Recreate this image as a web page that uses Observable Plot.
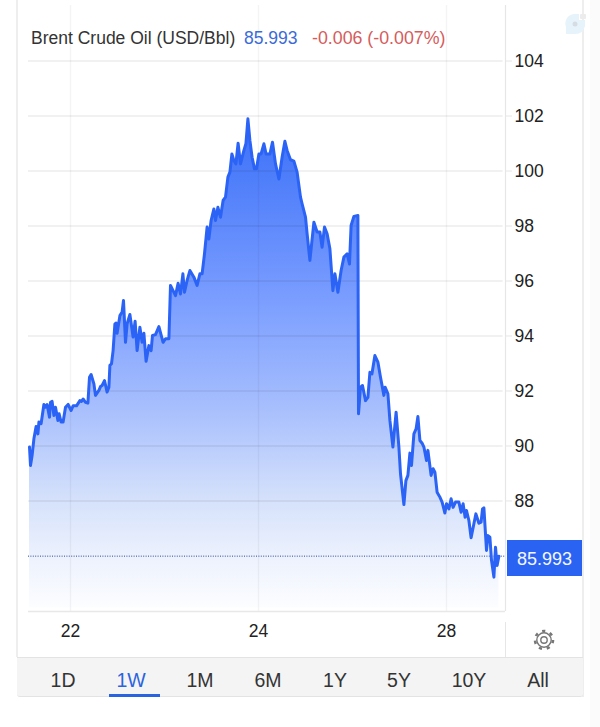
<!DOCTYPE html>
<html>
<head>
<meta charset="utf-8">
<script src="https://cdn.jsdelivr.net/npm/d3@7"></script>
<script src="https://cdn.jsdelivr.net/npm/@observablehq/plot@0.6"></script>
<style>
  html, body { margin: 0; padding: 0; background: #fff; }
  body { position: relative; width: 600px; height: 727px; overflow: hidden; font-family: "Liberation Sans", Arial, sans-serif; }
  #chart { position: absolute; left: 0; top: 0; }
  .abs { position: absolute; }
  #head { left: 31px; top: 28px; font-size: 17.5px; line-height: 20px; color: #333; white-space: nowrap; }
  #last { left: 244px; top: 28px; font-size: 17.5px; line-height: 20px; color: #3a6bd8; }
  #chg { left: 312px; top: 28px; font-size: 17.8px; line-height: 20px; color: #d55c5c; white-space: nowrap; }
  #tag { left: 507px; top: 540px; width: 75px; height: 36px; background: #2a63f2; color: #f4f7ff; font-size: 18px; line-height: 38px; text-align: center; }
  #bar { left: 17px; top: 657px; width: 566px; height: 40px; background: #f4f4f4; border-top: 1px solid #e3e3e3; border-bottom: 1px solid #e3e3e3; border-radius: 0 0 3px 3px; box-sizing: border-box; }
  .btn { position: absolute; top: 670px; font-size: 19.5px; line-height: 20px; color: #333; transform: translateX(-50%); }
  .on { color: #2a63e0; }
</style>
</head>
<body>
<div class="abs" style="left:16px;top:0;width:2px;height:657px;background:#eeeeee"></div>
<div class="abs" style="left:582px;top:0;width:2px;height:697px;background:#eeeeee"></div>
<div class="abs" style="left:590px;top:0;width:10px;height:727px;background:#fbfbfb"></div>
<div class="abs" style="left:505px;top:622px;width:1px;height:35px;background:#e6e6e6"></div>
<div id="chart"></div>
<div class="abs" id="head"></div>
<div class="abs" id="last"></div>
<div class="abs" id="chg"></div>
<div class="abs" id="tag"></div>
<div class="abs" id="bar"></div>
<div class="abs" style="left:109px;top:694px;width:51px;height:3px;background:#2a63e0"></div>
<svg class="abs" style="left:533px;top:629px" width="22" height="22" viewBox="0 0 22 22">
  <circle cx="11" cy="11" r="7.2" fill="none" stroke="#777" stroke-width="1.4"/>
  <circle cx="11" cy="11" r="9" fill="none" stroke="#777" stroke-width="2.6" stroke-dasharray="3.2 4.85"/>
  <circle cx="11" cy="11" r="3.2" fill="none" stroke="#777" stroke-width="1.4"/>
</svg>
<svg class="abs" style="left:565px;top:13px" width="22" height="24" viewBox="0 0 22 24">
  <path d="M1 14 A9.5 9.5 0 0 1 10 1 L14 1 L14 7 L20 7 L20 13 A9.5 9.5 0 0 1 10 21 L1 21 Z" fill="#e6f3fb"/>
  <circle cx="10" cy="11" r="2.5" fill="#d5dde2"/>
  <rect x="15" y="1" width="6" height="5" rx="1" fill="#ececec"/>
</svg>
<script>
const titleText = "Brent Crude Oil (USD/Bbl)";
const lastValue = 85.993;
const changeText = "-0.006 (-0.007%)";
const ranges = ["1D", "1W", "1M", "6M", "1Y", "5Y", "10Y", "All"];
const rangeCentres = [63, 131, 200, 268, 335, 399, 469, 538];
const yTicks = [88, 90, 92, 94, 96, 98, 100, 102, 104];
const xTicks = [21, 115, 209];
const xTickLabels = ["22", "24", "28"];

// position in 30-minute trading bars since the window start
const bars = [0.5,1,1.8,2.7,3.8,4.7,5.2,6.3,7.7,8.5,9.3,10.5,11,11.8,12.7,13.5,14.7,15.3,16.3,17.3,18.5,19.8,21.3,22.3,24,25.7,26.5,27.3,28.5,29.7,30.5,31.3,32.7,33.5,35.2,36,36.8,38,39.3,40.2,40.7,41.5,42.3,43.2,43.8,44.3,45.7,46.8,47.5,48.5,49.3,50.7,52.3,53.3,54.3,55.7,56.8,57.7,58.8,60.2,61.3,62,63.5,65.2,67.3,68.5,70.2,71,73.5,74.8,76,77.2,78,79.3,80.7,82.7,84.3,85.7,86.8,88,89.3,90.2,91.3,92.7,93.5,94.7,96,97.3,98.5,99.7,100.7,101.7,102.7,103.7,104.8,106,107.7,108.7,109.7,110.7,111.8,113,114,115.2,116.3,117.7,118.8,120.7,122,123.5,125.2,126.8,128.2,129.3,131,132.7,134.3,136,136.8,138.5,139.3,140.7,142.7,144.3,145.7,146.8,148,149.3,150.7,152.2,153.2,154.7,156.3,157.7,159.3,160.5,161.3,162.7,164.7,165,166,167,168.5,169.7,170.7,171.7,173.2,174.7,176,177.7,178.3,179.7,180.7,182.2,183.8,185.2,186,187.7,188.7,189.7,190.7,191.5,192.7,193.8,194.7,195.7,196.8,197.7,199,199.7,201.3,202.3,203.2,204.3,205.7,206.8,208.2,209,210.2,211.3,212.3,213.5,215.2,216.3,217.3,218.3,219,220.2,221.3,222.7,223.7,225.2,226.3,227,227.7,229,229.7,230.7,231.5,232.7,233.5,234.3,235.2];
const prices = [89.96,89.29,89.65,90.26,90.71,90.44,90.87,90.81,91.51,91.41,91.51,91.05,91.59,91.62,91.11,91.41,90.93,91.17,90.87,90.87,91.41,91.51,91.29,91.46,91.46,91.65,91.62,91.71,91.59,91.56,92.5,92.6,92.26,91.84,92.02,92.16,92.2,92.38,91.96,92.14,92.93,92.99,93.47,94.44,94.47,94.1,94.74,94.87,95.29,93.77,94.44,94.78,93.96,94.54,93.47,94.32,93.77,94.1,93.08,93.65,93.47,94.02,94.05,94.34,93.77,93.9,93.9,95.84,95.47,95.92,95.53,96.26,95.59,96.02,96.38,96.14,95.84,96.26,96.26,96.99,97.96,97.53,98.2,98.62,98.2,98.68,98.32,98.93,99.05,99.78,99.96,100.62,100.38,100.26,101.01,100.26,100.75,100.99,101.9,101.11,100.5,100.08,100.08,100.62,100.62,100.99,100.62,100.62,101.05,100.26,99.71,100.5,101.08,100.75,100.41,100.36,99.96,99.05,98.81,98.32,97.72,96.75,98.14,97.78,97.78,97.23,97.96,97.72,97.17,95.65,96.26,95.59,96.38,96.87,96.99,96.62,98.02,98.35,98.38,91.17,92.14,92.2,91.65,91.77,92.68,92.62,93.29,93.05,92.5,91.84,92.14,91.9,90.93,89.96,91.23,89.96,88.99,87.87,88.74,88.93,89.74,89.29,90.44,90.62,91.07,90.2,90.1,89.96,89.47,89.84,88.93,89.17,89.05,88.32,88.14,87.96,87.56,87.9,87.71,88.08,87.77,87.96,87.96,87.59,87.9,87.41,87.65,87.29,86.66,87.17,87.53,87.19,87.23,87.71,87.75,86.2,86.74,86.68,85.84,85.23,86.32,85.65,85.993];

document.getElementById("head").textContent = titleText;
document.getElementById("last").textContent = lastValue.toFixed(3);
document.getElementById("chg").textContent = changeText;
document.getElementById("tag").textContent = lastValue.toFixed(3);
ranges.forEach((r, i) => {
  const d = document.createElement("div");
  d.className = "btn" + (r === "1W" ? " on" : "");
  d.style.left = rangeCentres[i] + "px";
  d.textContent = r;
  document.body.appendChild(d);
});

const yFloor = 83.98, yTop = 106.02, xEnd = 238.5, areaFloor = 84.12;

function gradientDefs() {
  const defs = d3.create("svg:defs");
  const g = defs.append("linearGradient").attr("id", "oilfill")
    .attr("x1", 0).attr("y1", 0).attr("x2", 0).attr("y2", 1);
  [[0, "#3a6ff8"], [0.37, "#7a9dff"], [0.6, "#a9c0fd"], [0.78, "#d5e1fb"], [0.9, "#edf2fd"], [1, "#fcfdff"]]
    .forEach(([o, c]) => g.append("stop").attr("offset", o).attr("stop-color", c));
  return defs.node();
}

const chart = Plot.plot({
  width: 600,
  height: 660,
  marginLeft: 28,
  marginRight: 95,
  marginTop: 5,
  marginBottom: 49,
  style: { fontFamily: "'Liberation Sans', Arial, sans-serif", background: "transparent", overflow: "visible" },
  x: { type: "linear", domain: [0, xEnd], label: null },
  y: { type: "linear", domain: [yFloor, yTop], label: null },
  marks: [
    gradientDefs,
    Plot.areaY(prices, { x: bars, y1: areaFloor, y2: prices, fill: "url(#oilfill)" }),
    Plot.ruleX(xTicks, { stroke: "#000", strokeOpacity: 0.045, strokeWidth: 1.5 }),
    Plot.ruleY(yTicks, { stroke: "#000", strokeOpacity: 0.075, strokeWidth: 1.5, x1: 0, x2: xEnd - 1.2 }),
    Plot.ruleY([yFloor], { stroke: "#e8e8e8", strokeWidth: 1.5 }),
    Plot.ruleX([xEnd], { stroke: "#e6e6e6", strokeWidth: 1.2 }),
    Plot.ruleY([lastValue], { stroke: "#27489c", strokeWidth: 1, strokeDasharray: "1,1.4", x1: 0, x2: xEnd }),
    Plot.lineY(prices, { x: bars, y: prices, stroke: "#2a63f5", strokeWidth: 3, strokeLinejoin: "round" }),
    Plot.axisY(yTicks, { anchor: "right", tickSize: 6, tickPadding: 3, stroke: "#e6e6e6", fill: "#222", fontSize: 17.5, label: null }),
    Plot.axisX(xTicks, { anchor: "bottom", tickSize: 0, tickPadding: 13, fill: "#222", fontSize: 17.5, label: null,
      tickFormat: (d) => xTickLabels[xTicks.indexOf(d)] })
  ]
});
document.getElementById("chart").appendChild(chart);
</script>
</body>
</html>
